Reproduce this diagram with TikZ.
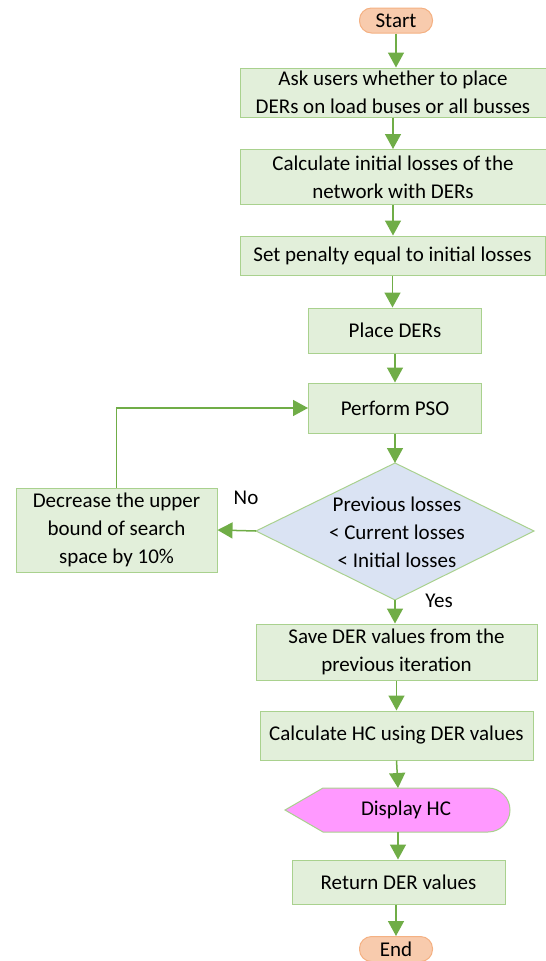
\documentclass[tikz,border=0pt]{standalone}
\usepackage{fontspec}
\setmainfont{Carlito}
\usetikzlibrary{arrows.meta}
\definecolor{boxfill}{HTML}{E2EFDA}
\definecolor{boxline}{HTML}{A9D18E}
\definecolor{arrowc}{HTML}{70AD47}
\definecolor{termfill}{HTML}{F8CBAD}
\definecolor{termline}{HTML}{F4B183}
\definecolor{decfill}{HTML}{DAE3F3}
\definecolor{dispfill}{HTML}{FF99FF}
\tikzset{
  x=1pt, y=-1pt,
  every node/.style={font=\fontsize{21}{28}\selectfont, align=center, inner sep=0pt},
  procbox/.style={draw=boxline, fill=boxfill, line width=1pt, rectangle},
  termbox/.style={draw=termline, fill=termfill, line width=1pt, rounded corners=12pt},
  conn/.style={draw=arrowc, line width=1.5pt, -{Triangle[length=15pt,width=16pt]}},
}
\begin{document}
\begin{tikzpicture}
\useasboundingbox (0,0) rectangle (546,961);
% terminals
\node[termbox, minimum width=73pt, minimum height=25pt] (start) at (396,20.5) {Start};
\node[termbox, minimum width=73pt, minimum height=25pt] (end) at (396,949) {End};
% process boxes
\node[procbox, minimum width=306pt, minimum height=49pt] (ask) at (393,92.5) {Ask users whether to place\\DERs on load buses or all busses};
\node[procbox, minimum width=306pt, minimum height=55pt] (calc) at (393,177) {Calculate initial losses of the\\network with DERs};
\node[procbox, minimum width=305pt, minimum height=39pt] (pen) at (392.5,255.5) {Set penalty equal to initial losses};
\node[procbox, minimum width=173pt, minimum height=45pt] (place) at (395,330.5) {Place DERs};
\node[procbox, minimum width=173pt, minimum height=50pt] (pso) at (395,408) {Perform PSO};
\node[procbox, minimum width=201pt, minimum height=84pt] (dec) at (116.5,530) {Decrease the upper\\bound of search\\space by 10\%};
\node[procbox, minimum width=281pt, minimum height=56pt] (save) at (396.5,652) {Save DER values from the\\previous iteration};
\node[procbox, minimum width=273pt, minimum height=49pt] (hc) at (396.5,735.5) {Calculate HC using DER values};
\node[procbox, minimum width=213pt, minimum height=44pt] (ret) at (398.5,882) {Return DER values};
% decision
\coordinate (dtop) at (395,463);
\coordinate (dleft) at (256,531);
\coordinate (dright) at (534,531);
\coordinate (dbot) at (395,600);
\filldraw[draw=boxline, fill=decfill, line width=1pt] (dtop) -- (dright) -- (dbot) -- (dleft) -- cycle;
\node (dec text) at (397,532) {Previous losses\\{}< Current losses\\{}< Initial losses};
% display
\coordinate (disptop) at (398,788);
\coordinate (dispbot) at (398,832);
\filldraw[draw=boxline, fill=dispfill, line width=1pt] (285,810) -- (323,788) -- (488,788) arc[start angle=90, end angle=-90, radius=22pt] -- (323,832) -- cycle;
\node (disp) at (406,810) {Display HC};
% connectors
\draw[conn] (start.south) -- (start.south |- ask.north);
\draw[conn] (ask.south) -- (ask.south |- calc.north);
\draw[conn] (calc.south) -- (calc.south |- pen.north);
\draw[conn] (pen.south) -- (pen.south |- place.north);
\draw[conn] (place.south) -- (place.south |- pso.north);
\draw[conn] (pso.south) -- (dtop);
\draw[conn] (dleft) -- (dec.east);
\draw[conn] (dec.north) -- (dec.north |- pso.west) -- (pso.west);
\draw[conn] (dbot) -- (dbot |- save.north);
\draw[conn] (save.south -| hc.north) -- (hc.north);
\draw[conn] (hc.south) -- (disptop);
\draw[conn] (dispbot) -- (dispbot |- ret.north);
\draw[conn] (ret.south -| end.north) -- (end.north);
% labels
\node (no) at (246,498) {No};
\node (yes) at (439,601) {Yes};
\end{tikzpicture}
\end{document}
